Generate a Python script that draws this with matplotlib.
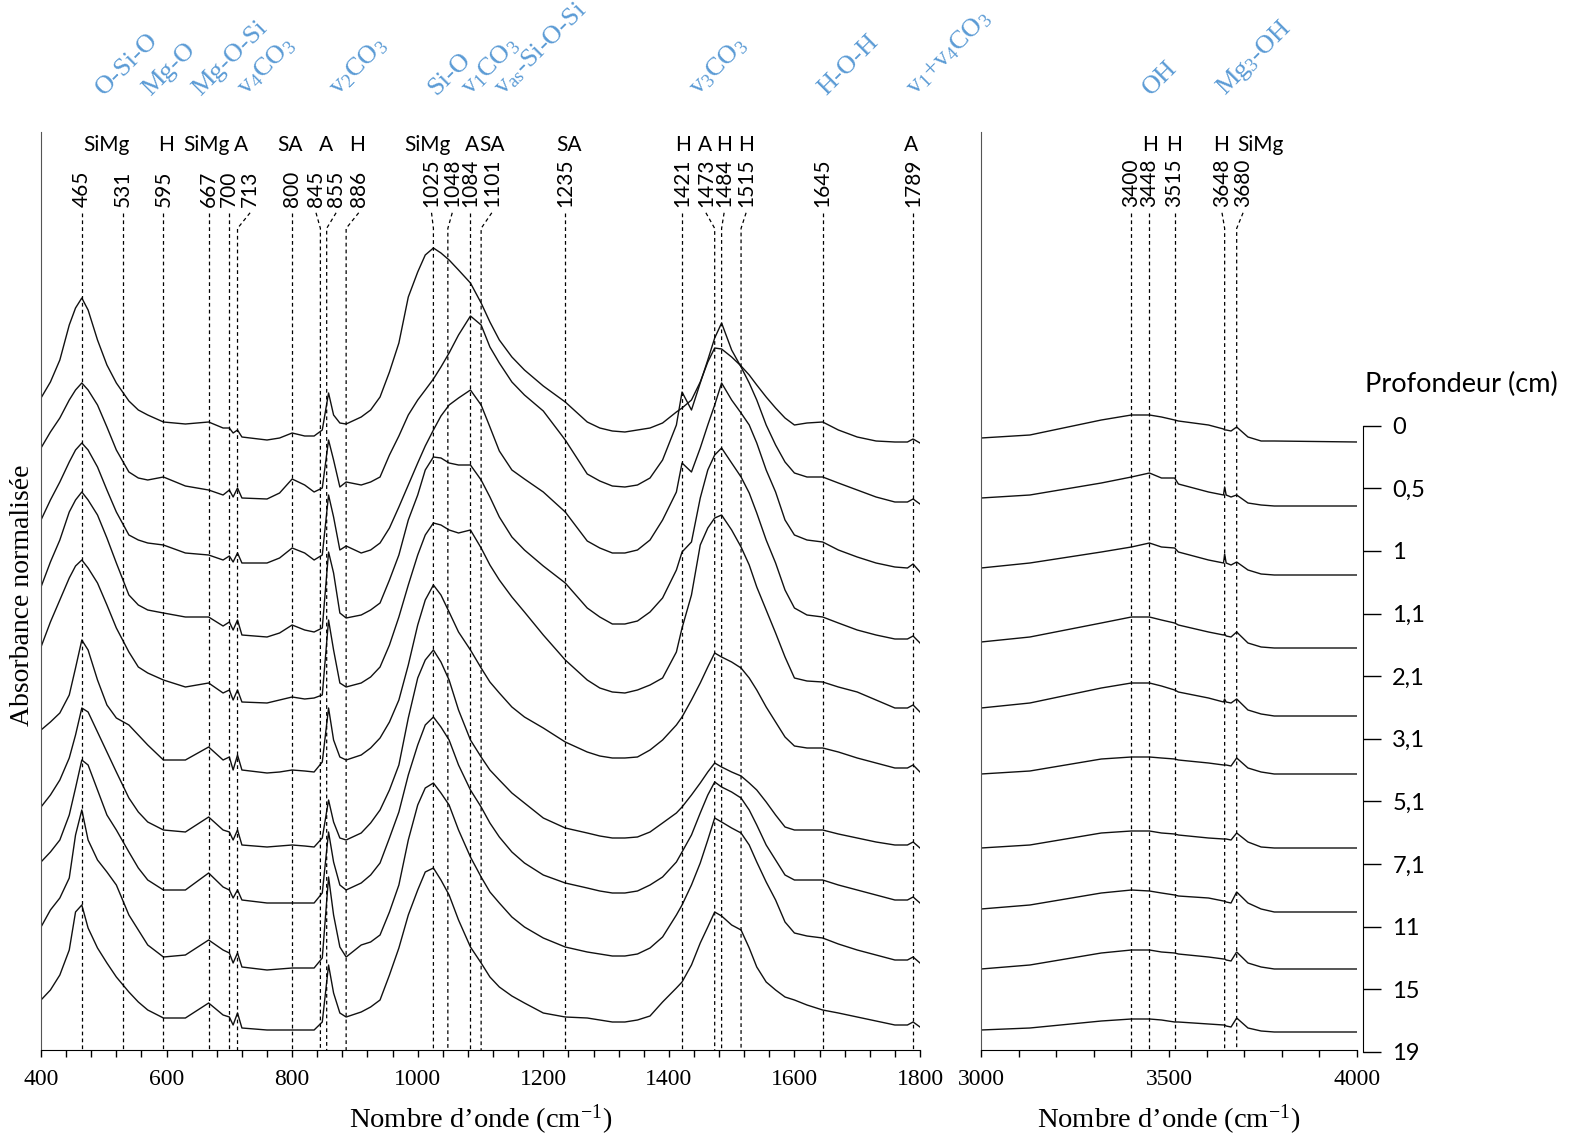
import matplotlib
matplotlib.use("Agg")
import matplotlib.pyplot as plt
from matplotlib.ticker import MultipleLocator
from matplotlib.transforms import blended_transform_factory

plt.rcParams['font.family'] = 'Liberation Serif'
plt.rcParams['mathtext.fontset'] = 'custom'
plt.rcParams['mathtext.rm'] = 'Liberation Serif'
plt.rcParams['mathtext.it'] = 'Liberation Serif:italic'
plt.rcParams['mathtext.default'] = 'rm'

# --- donnees (absorbance empilee, unites arbitraires) ---
wn_left = [400, 415, 430, 445, 455, 465, 475, 490, 505, 520, 540, 555, 570, 595, 630,
           667, 690, 700, 706, 713, 720, 760, 780, 800, 820, 835, 848, 858, 866, 876,
           886, 910, 925, 940, 955, 970, 985, 1000, 1012, 1025, 1037, 1050, 1065, 1084, 1101,
           1115, 1130, 1150, 1170, 1200, 1235, 1270, 1290, 1310, 1330, 1350, 1370, 1390, 1412, 1421,
           1436, 1450, 1462, 1473, 1484, 1500, 1515, 1528, 1540, 1555, 1570, 1585, 1600, 1620, 1645,
           1670, 1700, 1730, 1760, 1780, 1789, 1800]

left_0 = [652, 668, 690, 725, 742, 752, 740, 710, 685, 667, 649, 640, 635, 628, 626,
          628, 622, 622, 617, 620, 613, 610, 612, 617, 614, 614, 620, 657, 635, 627,
          626, 633, 640, 653, 678, 707, 753, 778, 795, 802, 797, 790, 780, 767, 747,
          728, 710, 693, 680, 664, 648, 628, 622, 619, 618, 620, 622, 627, 638, 642,
          650, 668, 688, 702, 701, 693, 684, 675, 665, 653, 642, 632, 625, 627, 628,
          620, 613, 609, 608, 608, 611, 607]
left_1 = [602, 618, 632, 650, 660, 667, 660, 645, 623, 600, 578, 572, 570, 573, 564,
          560, 555, 560, 553, 562, 552, 551, 557, 571, 565, 558, 562, 610, 590, 563,
          568, 565, 568, 573, 595, 614, 635, 650, 660, 671, 683, 697, 715, 734, 725,
          703, 687, 668, 655, 639, 610, 576, 569, 564, 563, 565, 572, 590, 625, 658,
          640, 667, 690, 712, 727, 700, 683, 667, 650, 625, 605, 588, 577, 573, 573,
          567, 560, 553, 548, 548, 551, 546]
left_2 = [530, 550, 568, 588, 600, 607, 600, 583, 560, 538, 515, 510, 507, 505, 497,
          495, 490, 494, 488, 497, 487, 487, 492, 502, 497, 490, 495, 555, 533, 500,
          504, 497, 500, 507, 522, 543, 565, 587, 604, 620, 634, 645, 652, 660, 645,
          623, 599, 580, 571, 558, 538, 509, 502, 497, 497, 500, 510, 530, 558, 587,
          578, 602, 625, 645, 667, 650, 637, 625, 607, 580, 558, 530, 515, 510, 508,
          500, 493, 487, 483, 482, 486, 478]
left_3 = [463, 488, 510, 538, 550, 558, 550, 535, 512, 487, 455, 445, 440, 437, 433,
          433, 424, 428, 420, 430, 415, 413, 417, 425, 420, 418, 422, 498, 477, 437,
          432, 435, 440, 447, 470, 495, 530, 555, 580, 593, 592, 587, 585, 585, 570,
          553, 533, 513, 500, 484, 467, 442, 433, 426, 426, 429, 438, 452, 480, 498,
          508, 552, 580, 595, 602, 587, 573, 557, 537, 510, 487, 460, 442, 435, 433,
          427, 420, 415, 411, 411, 414, 407]
left_4 = [403, 428, 450, 472, 484, 490, 482, 467, 445, 422, 398, 383, 377, 370, 363,
          367, 357, 360, 350, 360, 348, 347, 350, 353, 351, 352, 355, 430, 400, 367,
          363, 367, 373, 383, 405, 433, 465, 495, 515, 527, 525, 520, 517, 520, 502,
          485, 470, 453, 438, 415, 390, 370, 362, 358, 357, 360, 365, 372, 398, 422,
          455, 505, 522, 532, 535, 520, 503, 485, 463, 440, 417, 393, 372, 369, 368,
          363, 358, 350, 342, 342, 345, 338]
left_5 = [320, 328, 337, 355, 382, 410, 400, 370, 345, 332, 325, 315, 305, 290, 290,
          303, 290, 293, 280, 295, 280, 277, 278, 280, 279, 278, 288, 342, 310, 293,
          290, 295, 302, 312, 328, 350, 385, 425, 450, 465, 455, 438, 418, 400, 382,
          368, 357, 343, 333, 322, 308, 298, 294, 292, 292, 293, 300, 310, 325, 333,
          350, 367, 383, 397, 393, 388, 382, 372, 360, 343, 328, 313, 304, 302, 302,
          298, 292, 287, 282, 282, 285, 278]
left_6 = [243, 255, 270, 292, 315, 342, 338, 318, 298, 278, 252, 238, 228, 220, 218,
          233, 220, 218, 210, 220, 205, 203, 204, 205, 204, 203, 212, 250, 228, 212,
          210, 217, 227, 240, 260, 285, 332, 372, 390, 400, 388, 370, 340, 310, 293,
          280, 270, 257, 247, 232, 222, 217, 214, 212, 212, 213, 218, 227, 237, 243,
          255, 267, 278, 287, 283, 278, 274, 267, 260, 248, 235, 223, 220, 220, 220,
          216, 212, 208, 205, 205, 208, 202]
left_7 = [188, 198, 210, 235, 262, 290, 285, 260, 235, 220, 198, 182, 170, 160, 160,
          177, 163, 160, 152, 160, 150, 147, 147, 147, 147, 147, 157, 218, 188, 165,
          160, 167, 175, 187, 212, 238, 275, 305, 325, 333, 323, 310, 285, 260, 243,
          227, 213, 198, 187, 175, 167, 162, 159, 157, 157, 159, 165, 173, 188, 198,
          215, 237, 255, 268, 263, 258, 252, 240, 225, 205, 190, 175, 170, 170, 170,
          165, 160, 155, 150, 150, 153, 147]
left_8 = [123, 140, 152, 172, 215, 240, 210, 190, 178, 165, 135, 120, 105, 93, 95,
          110, 100, 97, 87, 97, 83, 80, 81, 82, 82, 82, 92, 173, 135, 103,
          93, 105, 108, 115, 138, 165, 210, 245, 262, 267, 257, 245, 220, 193, 173,
          158, 147, 133, 123, 112, 103, 98, 96, 94, 94, 96, 102, 113, 135, 145,
          165, 187, 210, 232, 228, 222, 217, 205, 188, 168, 150, 128, 117, 114, 112,
          106, 100, 95, 90, 90, 93, 87]
left_9 = [50, 60, 75, 100, 138, 145, 122, 102, 87, 73, 58, 48, 40, 32, 32,
          47, 35, 33, 25, 37, 22, 20, 20, 20, 20, 20, 28, 85, 57, 37,
          33, 38, 43, 50, 75, 102, 135, 160, 178, 182, 170, 155, 130, 103, 87,
          73, 63, 54, 47, 37, 33, 32, 30, 28, 28, 30, 34, 48, 62, 68,
          85, 107, 123, 138, 134, 125, 120, 102, 83, 68, 60, 53, 50, 45, 40,
          37, 33, 29, 25, 25, 28, 23]

wn_right = [3000, 3130, 3320, 3400, 3448, 3480, 3515, 3525, 3605, 3645, 3648, 3652,
            3665, 3680, 3710, 3745, 3780, 4000]

right_0 = [612, 615, 630, 635, 635, 633, 630, 629, 625, 621, 620, 620, 619, 623, 613, 609, 609, 608]
right_1 = [552, 555, 567, 573, 577, 572, 572, 566, 558, 555, 563, 555, 553, 555, 547, 545, 544, 544]
right_2 = [482, 487, 498, 503, 507, 503, 502, 498, 490, 487, 496, 487, 485, 488, 480, 476, 475, 475]
right_3 = [408, 413, 427, 433, 433, 430, 427, 425, 418, 415, 416, 414, 413, 418, 407, 403, 402, 402]
right_4 = [342, 347, 362, 367, 367, 364, 360, 358, 352, 348, 351, 348, 347, 351, 340, 336, 334, 334]
right_5 = [276, 279, 291, 293, 293, 292, 291, 290, 287, 285, 285, 285, 284, 292, 282, 278, 276, 276]
right_6 = [202, 205, 217, 219, 219, 217, 216, 215, 212, 211, 211, 211, 210, 217, 208, 203, 202, 202]
right_7 = [141, 145, 157, 160, 159, 157, 155, 154, 152, 149, 149, 148, 147, 158, 147, 141, 138, 138]
right_8 = [81, 85, 97, 100, 100, 98, 97, 96, 93, 91, 91, 90, 89, 98, 87, 83, 81, 81]
right_9 = [20, 22, 29, 31, 31, 30, 28, 28, 26, 25, 25, 24, 23, 32, 22, 19, 18, 18]

depth_labels = ['0', '0,5', '1', '1,1', '2,1', '3,1', '5,1', '7,1', '11', '15', '19']

bands_left = [465, 531, 595, 667, 700, 713, 800, 845, 855, 886, 1025, 1048, 1084, 1101,
              1235, 1421, 1473, 1484, 1515, 1645, 1789]
bands_right = [3400, 3448, 3515, 3648, 3680]

minerals_left = [('SiMg', 505), ('H', 599), ('SiMg', 664), ('A', 719), ('SA', 797),
                 ('A', 854), ('H', 903), ('SiMg', 1016), ('A', 1086), ('SA', 1118),
                 ('SA', 1241), ('H', 1422), ('A', 1457), ('H', 1488), ('H', 1523), ('A', 1785)]
minerals_right = [('H', 3449), ('H', 3513), ('H', 3638), ('SiMg', 3742)]

groups_left = [('O-Si-O', 500), ('Mg-O', 574), ('Mg-O-Si', 655), (r'v$_4$CO$_3$', 727),
               (r'v$_2$CO$_3$', 873), ('Si-O', 1029), (r'v$_1$CO$_3$', 1084),
               (r'v$_{as}$-Si-O-Si', 1136), (r'v$_3$CO$_3$', 1447), ('H-O-H', 1651),
               (r'v$_1$+v$_4$CO$_3$', 1792)]
groups_right = [('OH', 3452), (r'Mg$_3$-OH', 3649)]

# position decalee de certaines etiquettes (bandes trop proches)
label_shift = {713: 733, 845: 838, 855: 870, 886: 906, 1025: 1022, 1048: 1055,
               1101: 1118, 1473: 1459, 1484: 1488, 1515: 1523, 3648: 3641, 3680: 3697}

left_spectra = [left_0, left_1, left_2, left_3, left_4, left_5, left_6, left_7, left_8, left_9]
right_spectra = [right_0, right_1, right_2, right_3, right_4, right_5, right_6, right_7, right_8, right_9]

BLUE = '#5B9BD5'
W, H = 1569, 1137
fig = plt.figure(figsize=(W / 100, H / 100), dpi=100)
bottom = (H - 1050) / H
height = 918 / H
ax1 = fig.add_axes([41 / W, bottom, 879 / W, height])
ax2 = fig.add_axes([981 / W, bottom, 376 / W, height])

for y in left_spectra:
    ax1.plot(wn_left, y, color='#111111', lw=1.0)
for y in right_spectra:
    ax2.plot(wn_right, y, color='#111111', lw=1.0)


def decorate(ax, bands, minerals, groups):
    tr = blended_transform_factory(ax.transData, ax.transAxes)
    for b in bands:
        lx = label_shift.get(b, b)
        ax.plot([lx, b, b], [0.912, 0.895, 0.0], transform=tr, color='black',
                lw=0.9, ls=(0, (3, 2.5)), clip_on=False)
        ax.text(lx, 0.918, str(b), transform=tr, rotation=90, rotation_mode='anchor',
                ha='left', va='center', fontsize=15, family='Lato')
    for s, x in minerals:
        ax.text(x, 0.986, s, transform=tr, ha='center', va='center',
                fontsize=15, family='Lato')
    for s, x in groups:
        ax.text(x, 1.039, s, transform=tr, rotation=45, rotation_mode='anchor',
                ha='left', va='baseline', fontsize=19, color=BLUE)


for ax in (ax1, ax2):
    ax.set_ylim(0, 918)
    ax.set_yticks([])
    ax.spines['top'].set_visible(False)
    ax.spines['right'].set_visible(False)
    ax.spines['left'].set_color('#555555')
    ax.tick_params(axis='x', which='both', direction='out', length=5, width=1,
                   labelsize=17, pad=9)
    ax.set_xlabel(r'Nombre d’onde (cm$^{-1}$)', fontsize=20.5, labelpad=9)

ax1.set_xlim(400, 1800)
ax1.set_xticks(range(400, 1801, 200))
ax1.xaxis.set_minor_locator(MultipleLocator(40))
ax2.set_xlim(3000, 4000)
ax2.set_xticks([3000, 3500, 4000])
ax2.xaxis.set_minor_locator(MultipleLocator(100))

decorate(ax1, bands_left, minerals_left, groups_left)
decorate(ax2, bands_right, minerals_right, groups_right)

fig.text(0.0145, (H - 595) / H, 'Absorbance normalisée', rotation=90,
         ha='center', va='center', fontsize=20)

# axe des profondeurs
axd = fig.add_axes([1363 / W, (H - 1051.7) / H, 0.0001, 626 / H])
axd.patch.set_visible(False)
for s in ('left', 'top', 'bottom'):
    axd.spines[s].set_visible(False)
axd.set_xticks([])
axd.yaxis.tick_right()
axd.set_ylim(len(depth_labels) - 1, 0)
axd.set_yticks(range(len(depth_labels)))
axd.set_yticklabels(depth_labels, family='Lato')
axd.tick_params(axis='y', direction='out', length=13, width=1, pad=8, labelsize=17)
fig.text(1365 / W, (H - 384) / H, 'Profondeur (cm)', family='Lato', fontsize=19.5,
         ha='left', va='center')

fig.savefig('out.png', dpi=100)
